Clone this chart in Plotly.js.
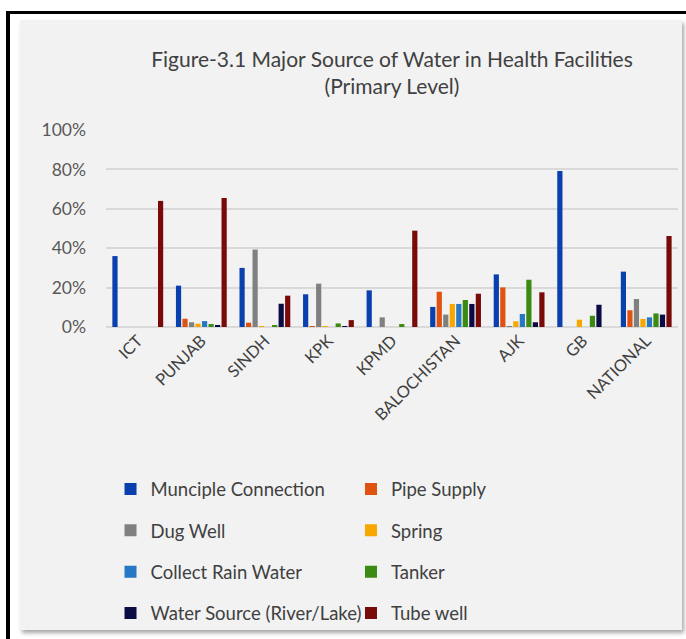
<!DOCTYPE html>
<html>
<head>
<meta charset="utf-8">
<script src="https://cdn.plot.ly/plotly-3.0.1.min.js"></script>
<style>
  html, body { margin:0; padding:0; background:#ffffff; width:686px; height:639px; overflow:hidden; }
  #frame { position:absolute; left:6px; top:11px; width:690px; height:640px; border-left:4px solid #000; border-top:3px solid #000; box-sizing:border-box; }
  #panel { position:absolute; left:20px; top:20px; width:662px; height:610px; background:#f2f2f2; box-shadow: 2px 3px 4px rgba(0,0,0,0.35); }
  #chart { position:absolute; left:0; top:0; width:686px; height:639px; }
</style>
</head>
<body>
<div id="frame"></div>
<div id="panel"></div>
<div id="chart"></div>
<script>
const regions = ["ICT","PUNJAB","SINDH","KPK","KPMD","BALOCHISTAN","AJK","GB","NATIONAL"];

const muncipleConnection = [0.36, 0.21, 0.30, 0.166, 0.186, 0.102, 0.267, 0.792, 0.281];
const pipeSupply         = [0.00, 0.042, 0.022, 0.003, 0.00, 0.179, 0.201, 0.00, 0.085];
const dugWell            = [0.00, 0.024, 0.393, 0.22, 0.049, 0.063, 0.005, 0.00, 0.142];
const spring             = [0.00, 0.017, 0.003, 0.003, 0.00, 0.117, 0.029, 0.037, 0.041];
const collectRainWater   = [0.00, 0.030, 0.00, 0.00, 0.00, 0.117, 0.066, 0.00, 0.049];
const tanker             = [0.00, 0.015, 0.008, 0.018, 0.015, 0.137, 0.24, 0.057, 0.069];
const waterSource        = [0.00, 0.007, 0.118, 0.005, 0.00, 0.117, 0.024, 0.113, 0.063];
const tubeWell           = [0.64, 0.655, 0.159, 0.035, 0.489, 0.169, 0.176, 0.00, 0.462];

const seriesNames  = ["Munciple Connection","Pipe Supply","Dug Well","Spring","Collect Rain Water","Tanker","Water Source (River/Lake)","Tube well"];
const seriesValues = [muncipleConnection, pipeSupply, dugWell, spring, collectRainWater, tanker, waterSource, tubeWell];
const seriesColors = ["#0a3fae","#e0520f","#808080","#f6a800","#2677c4","#3b8a12","#0b0b45","#780a0a"];
const legendOf     = ["legend","legend2","legend","legend2","legend","legend2","legend","legend2"];

const traces = seriesNames.map((name, i) => ({
  type: "bar",
  name: name,
  x: regions,
  y: seriesValues[i],
  marker: { color: seriesColors[i], line: { width: 0 } },
  legend: legendOf[i],
  legendgroup: "g" + i,
  hoverinfo: "x+y+name"
}));

const FONT = "Lato, 'Open Sans', sans-serif";

const legendBase = {
  orientation: "v",
  xref: "paper", yref: "paper",
  yanchor: "top", xanchor: "left",
  bgcolor: "rgba(0,0,0,0)",
  font: { family: FONT, size: 18.5, color: "#404040" },
  tracegroupgap: 14.3,
  traceorder: "grouped",
  y: -0.728
};

const layout = {
  width: 686, height: 639,
  paper_bgcolor: "rgba(0,0,0,0)",
  plot_bgcolor: "rgba(0,0,0,0)",
  margin: { l: 106, r: 8, t: 130, b: 312, pad: 0, autoexpand: false },
  barmode: "group",
  bargap: 0.18,
  bargroupgap: 0.2,
  title: {
    text: "Figure-3.1 Major Source of Water in Health Facilities<br>(Primary Level)",
    font: { family: FONT, size: 21, color: "#404040" },
    x: 0.5, xref: "paper", xanchor: "center",
    y: 0.895, yref: "container", yanchor: "middle"
  },
  xaxis: {
    type: "category",
    tickangle: -45,
    tickfont: { family: FONT, size: 16.5, color: "#404040" },
    showgrid: false,
    showline: false,
    ticks: "",
    zeroline: false,
    automargin: false
  },
  yaxis: {
    range: [0, 1.0],
    tickvals: [0, 0.2, 0.4, 0.6, 0.8, 1.0],
    tickformat: ".0%",
    tickfont: { family: FONT, size: 17.5, color: "#595959" },
    gridcolor: "#d9d9d9",
    gridwidth: 1.5,
    zeroline: true,
    zerolinecolor: "#d9d9d9",
    zerolinewidth: 1.5,
    showline: false,
    ticks: "",
    ticklabelstandoff: 19,
    automargin: false
  },
  legend: Object.assign({}, legendBase, { x: 0.0079 }),
  legend2: Object.assign({}, legendBase, { x: 0.4283 }),
  showlegend: true
};

Plotly.newPlot("chart", traces, layout, { displayModeBar: false, responsive: false });
</script>
</body>
</html>
